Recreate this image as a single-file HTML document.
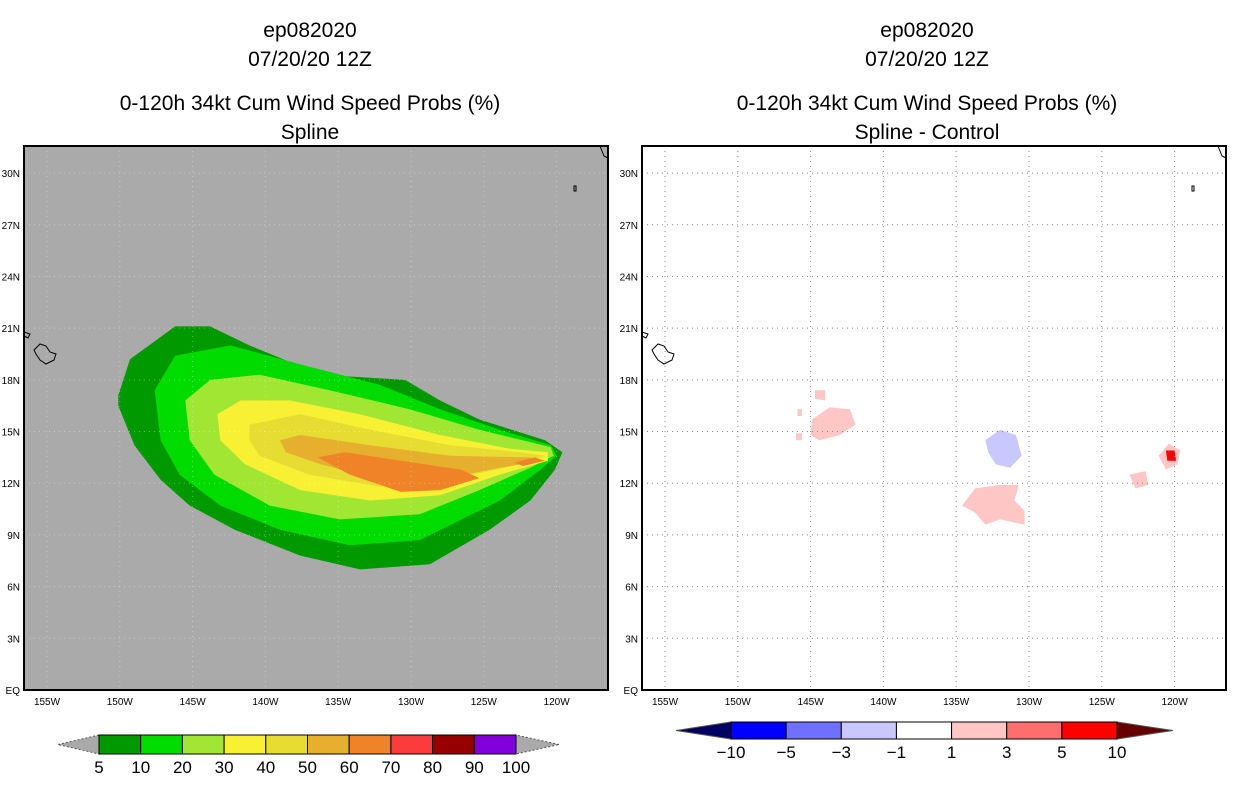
<!DOCTYPE html>
<html><head><meta charset="utf-8"><style>
body{margin:0;background:#fff;}
svg text{font-family:"Liberation Sans",sans-serif;}
</style></head><body>
<svg id="c" width="1236" height="800" xmlns="http://www.w3.org/2000/svg">
<g font-size="21" text-anchor="middle" fill="#000">
<text x="310" y="37">ep082020</text>
<text x="310" y="66">07/20/20 12Z</text>
<text x="310" y="110">0-120h 34kt Cum Wind Speed Probs (%)</text>
<text x="310" y="139">Spline</text>
<text x="927" y="37">ep082020</text>
<text x="927" y="66">07/20/20 12Z</text>
<text x="927" y="110">0-120h 34kt Cum Wind Speed Probs (%)</text>
<text x="927" y="139">Spline - Control</text>
</g>
<g id="left"></g><g id="right"></g><g id="bars"></g>
</svg>
<script>
const lonTicks=[-155,-150,-145,-140,-135,-130,-125,-120];
const lonLabels=["155W","150W","145W","140W","135W","130W","125W","120W"];
const latTicks=[0,3,6,9,12,15,18,21,24,27,30];
const latLabels=["EQ","3N","6N","9N","12N","15N","18N","21N","24N","27N","30N"];
const levels=[5,10,20,30,40,50,60,60];
const levelColors=["#009a00","#00dc00","#a0e632","#f8f032","#e6dc32","#e6af2d","#f08228","#f08228"];
const contours=[
[[-150.1,17.1],[-149.3,19.2],[-146.2,21.1],[-143.8,21.1],[-141.1,20.0],[-136.2,18.3],[-130.4,18.0],[-128.0,16.8],[-125.3,15.7],[-120.8,14.5],[-119.6,13.8],[-120.1,12.8],[-121.8,11.0],[-124.6,9.3],[-128.7,7.3],[-133.5,7.0],[-137.6,7.8],[-142.1,9.3],[-145.2,10.7],[-147.2,12.2],[-149.0,14.2],[-150.1,16.5]],
[[-147.6,17.4],[-146.2,19.4],[-142.4,20.0],[-137.6,18.9],[-132.1,17.7],[-128.0,16.3],[-123.9,15.1],[-120.4,14.2],[-120.0,13.6],[-121.1,12.8],[-123.9,11.0],[-129.4,8.7],[-134.2,8.4],[-139.0,9.3],[-143.1,10.7],[-145.9,12.5],[-147.2,14.5]],
[[-145.5,16.8],[-143.8,18.0],[-140.4,18.3],[-135.6,17.4],[-130.1,16.3],[-125.3,15.1],[-120.4,14.1],[-120.2,13.6],[-121.8,12.9],[-125.3,11.6],[-129.4,10.2],[-134.9,9.9],[-139.7,10.7],[-143.5,12.5],[-145.2,14.5]],
[[-143.3,16.0],[-141.7,16.8],[-138.3,16.8],[-133.5,16.0],[-128.0,14.8],[-123.2,14.0],[-120.6,13.8],[-120.6,13.3],[-123.9,12.5],[-128.0,11.3],[-132.8,11.0],[-137.6,11.6],[-141.4,13.1],[-143.1,14.5]],
[[-141.1,15.4],[-137.6,16.0],[-132.8,15.1],[-127.3,14.2],[-122.5,13.8],[-120.8,13.6],[-122.5,13.1],[-127.3,12.2],[-132.1,11.8],[-137.0,12.5],[-140.4,13.6],[-141.1,14.5]],
[[-139.0,14.5],[-137.6,14.8],[-132.8,14.2],[-127.3,13.6],[-121.8,13.5],[-121.1,13.3],[-123.9,12.9],[-128.0,12.2],[-132.1,12.2],[-136.2,13.1],[-138.6,13.8]],
[[-136.4,13.5],[-134.5,13.8],[-130.7,13.3],[-126.6,12.8],[-125.3,12.3],[-128.0,11.6],[-130.7,11.5],[-134.2,12.5]],
[[-122.9,13.2],[-121.5,13.5],[-120.8,13.3],[-122.3,13.0]]
];
const diffValues=[2,2,2,2,-2,2,2,4,2];
const diffColors={"-2":"#c8c8ff","2":"#ffc6c6","4":"#ff0000"};
const diffBlobs=[
[[-144.9,15.7],[-143.7,16.4],[-142.3,16.3],[-141.9,15.4],[-143.0,14.8],[-144.4,14.5],[-145.0,14.8]],
[[-144.7,17.4],[-144.0,17.4],[-144.0,16.8],[-144.7,16.9]],
[[-145.9,16.3],[-145.6,16.3],[-145.6,15.9],[-145.9,15.9]],
[[-146.0,14.9],[-145.6,14.9],[-145.6,14.5],[-146.0,14.5]],
[[-133.0,14.5],[-132.0,15.1],[-130.9,14.8],[-130.5,13.6],[-131.3,12.9],[-132.3,13.1],[-132.8,13.8]],
[[-134.6,10.7],[-133.7,11.7],[-132.0,11.9],[-130.7,11.9],[-131.0,11.0],[-130.3,10.4],[-130.3,9.6],[-132.0,9.9],[-133.0,9.6],[-133.7,10.3]],
[[-121.1,13.6],[-120.4,14.3],[-119.6,13.9],[-119.8,13.1],[-120.6,12.8]],
[[-120.6,13.9],[-120.0,13.9],[-119.9,13.3],[-120.5,13.3]],
[[-123.1,12.5],[-122.0,12.7],[-121.8,11.9],[-122.7,11.7]]
];
const leftBarLabels=["5","10","20","30","40","50","60","70","80","90","100"];
const leftBarColors=["#009a00","#00dc00","#a0e632","#f8f032","#e6dc32","#e6af2d","#f08228","#fa3c3c","#960000","#8200dc"];
const rightBarLabels=["-10","-5","-3","-1","1","3","5","10"];
const rightBarColors=["#0000ff","#7070ff","#c8c8ff","#ffffff","#ffc6c6","#ff6e6e","#ff0000"];

const NS="http://www.w3.org/2000/svg";
function mk(p,t,a){const e=document.createElementNS(NS,t);for(const k in a)e.setAttribute(k,a[k]);p.appendChild(e);return e;}
const X0=24,X1=608,Y0=146,Y1=690;
function xs(lon,off){return off+47+(lon+155)*14.56;}
function ys(lat){return 690-lat*17.23;}
function pts(poly,off){return poly.map(p=>xs(p[0],off).toFixed(1)+","+ys(p[1]).toFixed(1)).join(" ");}

function panel(g,off,bg,grid,gridOp){
  const r=mk(g,'rect',{x:X0+off,y:Y0,width:X1-X0,height:Y1-Y0,fill:bg});
  
  
  return r;
}
function axes(g,off,grid,op){
  latTicks.forEach((t,i)=>{
    if(i>0){const l=mk(g,'line',{x1:X0+off,x2:X1+off,y1:ys(t),y2:ys(t),stroke:grid,'stroke-dasharray':'1,4','stroke-opacity':op});
    
    }
    const tx=mk(g,'text',{x:X0+off-4,y:ys(t)+4,'font-size':10,'text-anchor':'end'});tx.textContent=latLabels[i];
    
    
  });
  lonTicks.forEach((t,i)=>{
    const l=mk(g,'line',{x1:xs(t,off),x2:xs(t,off),y1:Y0,y2:Y1,stroke:grid,'stroke-dasharray':'1,4','stroke-opacity':op});
    
    
    const tx=mk(g,'text',{x:xs(t,off),y:Y1+15,'font-size':10,'text-anchor':'middle'});tx.textContent=lonLabels[i];
    
    
  });
  // coastlines
  const hi=mk(g,'path',{d:`M${34+off},350 l6,-6 l6,2 l4,6 l6,2 l-2,6 l-8,4 l-6,-4 l-4,-6 z M${24+off},332 l6,2 l-2,4 l-4,-2 M${574+off},186 l2,0 l0,5 l-2,0 z M${600+off},146 l4,10 l4,2`,fill:'none',stroke:'#000','stroke-width':1});
  
  
  const f=mk(g,'rect',{x:X0+off,y:Y0,width:X1-X0,height:Y1-Y0,fill:'none',stroke:'#000','stroke-width':2});
  
  
}
const L=document.getElementById('left'),R=document.getElementById('right');
panel(L,0,'#aaaaaa');
contours.forEach((c,i)=>{
  const p=mk(L,'polygon',{points:pts(c,0),fill:levelColors[i]});
  
  
});
axes(L,0,'#ffffff',0.35);
panel(R,618,'#ffffff');
diffBlobs.forEach((c,i)=>{
  const p=mk(R,'polygon',{points:pts(c,618),fill:diffColors[String(diffValues[i])]});
  
  
});
axes(R,618,'#888888',1);

const B=document.getElementById('bars');
function bar(x0,x1,y0,y1,tipL,tipR,cols,labels,lcL,lcR,name){
  const w=(x1-x0)/cols.length,ym=(y0+y1)/2;
  const a=mk(B,'polygon',{points:`${tipL},${ym} ${x0},${y0} ${x0},${y1}`,fill:lcL,stroke:'#555','stroke-dasharray':lcL==='#aaaaaa'?'2,2':'none'});
  
  
  const b=mk(B,'polygon',{points:`${tipR},${ym} ${x1},${y0} ${x1},${y1}`,fill:lcR,stroke:'#555','stroke-dasharray':lcR==='#aaaaaa'?'2,2':'none'});
  
  
  cols.forEach((c,i)=>{
    const r=mk(B,'rect',{x:x0+i*w,y:y0,width:w,height:y1-y0,fill:c,stroke:'#000','stroke-width':1});
    
    
  });
  labels.forEach((l,i)=>{
    const t=mk(B,'text',{x:x0+i*w,y:y1+19,'font-size':17,'text-anchor':'middle'});t.textContent=l.replace('-','\u2212');
    
    
  });
}
bar(99,516,735,754,58,559,leftBarColors,leftBarLabels,'#aaaaaa','#aaaaaa','left-colorbar');
bar(731,1117,722,739,676,1173,rightBarColors,rightBarLabels,'#000064','#640000','right-colorbar');
</script>
</body></html>
